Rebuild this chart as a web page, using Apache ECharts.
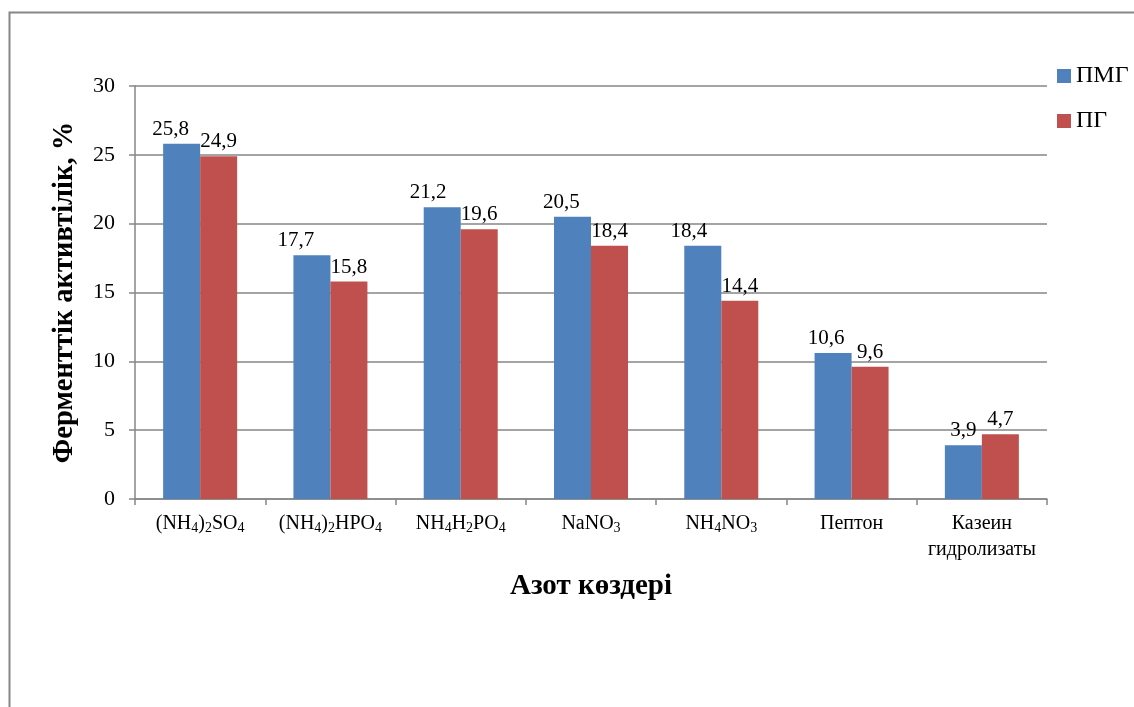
<!DOCTYPE html>
<html>
<head>
<meta charset="utf-8">
<script src="https://cdn.jsdelivr.net/npm/echarts@6/dist/echarts.min.js"></script>
<style>
  html, body { margin: 0; padding: 0; background: #ffffff; }
  #chart { width: 1134px; height: 707px; }
</style>
</head>
<body>
<div id="chart"></div>
<script>
// Nitrogen sources and enzyme activity for the two media
const categories = ['(NH₄)₂SO₄', '(NH₄)₂HPO₄', 'NH₄H₂PO₄', 'NaNO₃', 'NH₄NO₃', 'Пептон', 'Казеин\nгидролизаты'];
const seriesNames = ['ПМГ', 'ПГ'];
const valuesPMG = [25.8, 17.7, 21.2, 20.5, 18.4, 10.6, 3.9];
const valuesPG = [24.9, 15.8, 19.6, 18.4, 14.4, 9.6, 4.7];
const yTicks = { min: 0, max: 30, interval: 5 };

// horizontal nudge of the first series' labels so they clear the neighbour's label
const pmgLabelShift = [-11, -16, -14, -11, -14, -7, 0];

const FONT = '"Liberation Serif", "Times New Roman", serif';
const fmt = v => String(v).replace('.', ',');

// turn Unicode subscript digits into rich-text runs set in a smaller, lowered size
const SUB = '₀₁₂₃₄₅₆₇₈₉';
function richFormula(text) {
  return text.split('\n').map(line => {
    let out = '', buf = '', sub = false;
    const flush = () => {
      if (buf) out += '{' + (sub ? 's' : 'n') + '|' + buf + '}';
      buf = '';
    };
    for (const ch of line) {
      const k = SUB.indexOf(ch);
      const isSub = k >= 0;
      if (isSub !== sub) { flush(); sub = isSub; }
      buf += isSub ? String(k) : ch;
    }
    flush();
    return out;
  }).join('\n');
}

const chart = echarts.init(document.getElementById('chart'), null, { renderer: 'canvas' });

const labelBase = {
  show: true,
  position: 'top',
  distance: 4,
  color: '#000',
  fontFamily: FONT,
  fontSize: 21,
  formatter: p => fmt(p.value)
};

chart.setOption({
  animation: false,
  backgroundColor: '#ffffff',
  graphic: [{
    type: 'rect',
    shape: { x: 9.5, y: 12.5, width: 1300, height: 900 },
    style: { fill: 'none', stroke: '#868686', lineWidth: 2 },
    silent: true
  }],
  legend: {
    orient: 'vertical',
    left: 1052,
    top: 59,
    itemWidth: 14,
    itemHeight: 14,
    itemGap: 21,
    icon: 'rect',
    textStyle: { fontFamily: FONT, fontSize: 24, color: '#000' },
    data: seriesNames
  },
  grid: { left: 135, right: 87, top: 86, bottom: 208, containLabel: false },
  xAxis: {
    type: 'category',
    data: categories,
    name: 'Азот көздері',
    nameLocation: 'middle',
    nameGap: 73,
    nameTextStyle: { fontFamily: FONT, fontSize: 29, fontWeight: 'bold', color: '#000' },
    axisLine: { lineStyle: { color: '#868686', width: 1.5 } },
    axisTick: { show: true, length: 6, lineStyle: { color: '#868686', width: 1.5 } },
    axisLabel: {
      fontFamily: FONT, fontSize: 20, color: '#000', margin: 12, interval: 0,
      formatter: v => richFormula(v),
      rich: {
        n: { fontFamily: FONT, fontSize: 20, color: '#000', lineHeight: 26, verticalAlign: 'middle' },
        s: { fontFamily: FONT, fontSize: 14, color: '#000', lineHeight: 14, verticalAlign: 'bottom', padding: [0, 0, 2, 0] }
      }
    }
  },
  yAxis: {
    type: 'value',
    min: yTicks.min,
    max: yTicks.max,
    interval: yTicks.interval,
    name: 'Ферменттік активтілік, %',
    nameLocation: 'middle',
    nameGap: 56,
    nameTextStyle: { fontFamily: FONT, fontSize: 28.5, fontWeight: 'bold', color: '#000' },
    axisLine: { show: true, lineStyle: { color: '#868686', width: 1.5 } },
    axisTick: { show: true, length: 6, lineStyle: { color: '#868686', width: 1.5 } },
    splitLine: { lineStyle: { color: '#868686', width: 1.5 } },
    axisLabel: { fontFamily: FONT, fontSize: 22, color: '#000', margin: 20 }
  },
  series: [
    {
      name: seriesNames[0],
      type: 'bar',
      barWidth: '28.4%',
      barGap: '0%',
      itemStyle: { color: '#4F81BD' },
      label: labelBase,
      data: valuesPMG.map((v, i) => ({ value: v, label: { offset: [pmgLabelShift[i], 0] } }))
    },
    {
      name: seriesNames[1],
      type: 'bar',
      barWidth: '28.4%',
      barGap: '0%',
      itemStyle: { color: '#C0504D' },
      label: labelBase,
      data: valuesPG
    }
  ]
});
</script>
</body>
</html>
